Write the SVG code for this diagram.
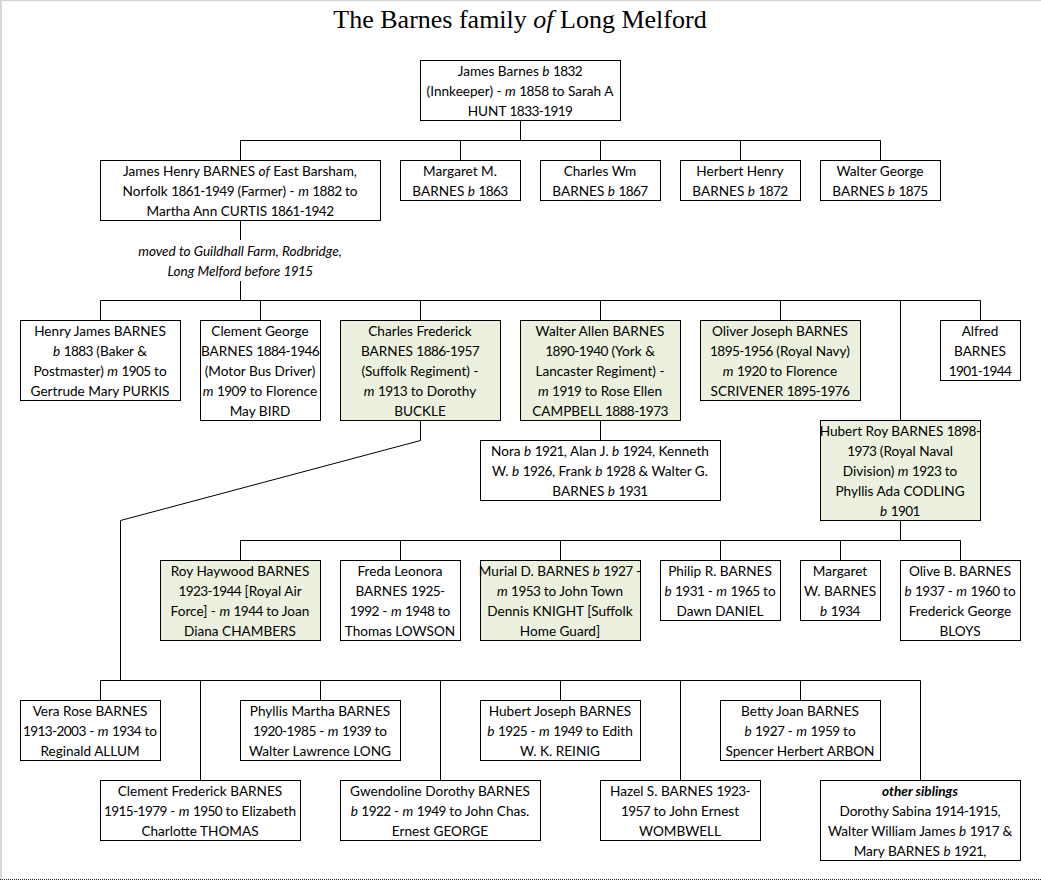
<svg xmlns="http://www.w3.org/2000/svg" width="1041" height="881" viewBox="0 0 1041 881">
<style>
.bg{fill:#fff}
.box{fill:#fff;stroke:#000;stroke-width:1}
.g{fill:#EBF1DE}
.t{font-family:Lato,"Liberation Sans",sans-serif;font-size:13.6px;fill:#000;text-anchor:middle}
.i{font-style:italic}
.bi{font-style:italic;font-weight:bold}
.d{letter-spacing:-0.6px}
.title{font-family:"Liberation Serif","DejaVu Serif",serif;font-size:26px;fill:#000;text-anchor:middle}
.c{fill:none;stroke:#000;stroke-width:1}
</style>
<rect class="bg" x="0" y="0" width="1041" height="881"/>
<line x1="0" y1="0.5" x2="1041" y2="0.5" stroke="#d0d0d0" stroke-width="1"/>
<line x1="1" y1="0" x2="1" y2="880" stroke="#d8d8d8" stroke-width="2"/>
<line x1="0" y1="879.5" x2="1041" y2="879.5" stroke="#222" stroke-width="1" stroke-dasharray="1 1"/>

<text class="title" x="520" y="28">The Barnes family <tspan class="i">of</tspan> Long Melford</text>

<g id="connectors">
<path class="c" d="M520.5 120.5V140.5M240.5 140.5H880.5M240.5 140.5V160.5M460.5 140.5V160.5M600.5 140.5V160.5M740.5 140.5V160.5M880.5 140.5V160.5"/>
<path class="c" d="M240.5 220.5V240M240.5 281V300.5M100.5 300.5H980.5M100.5 300.5V320.5M260.5 300.5V320.5M420.5 300.5V320.5M600.5 300.5V320.5M780.5 300.5V320.5M980.5 300.5V320.5M900.5 300.5V420.5"/>
<path class="c" d="M600.5 420.5V440.5"/>
<path class="c" d="M420.5 420.5V440.5L120.5 520.5V680.5"/>
<path class="c" d="M900.5 520.5V540.5M240.5 540.5H960.5M240.5 540.5V560.5M400.5 540.5V560.5M560.5 540.5V560.5M720.5 540.5V560.5M840.5 540.5V560.5M960.5 540.5V560.5"/>
<path class="c" d="M100.5 680.5H920.5M100.5 680.5V700.5M320.5 680.5V700.5M560.5 680.5V700.5M800.5 680.5V700.5M200.5 680.5V780.5M440.5 680.5V780.5M680.5 680.5V780.5M920.5 680.5V780.5"/>
<text class="t i" x="240" y="256">moved to Guildhall Farm, Rodbridge,</text>
<text class="t i" x="240" y="276">Long Melford before <tspan class="d">1915</tspan></text>
</g>

<g id="n-james">
<rect class="box" x="420.5" y="60.5" width="200" height="60"/>
<text class="t" x="520" y="76">James Barnes <tspan class="i">b</tspan> <tspan class="d">1832</tspan></text>
<text class="t" x="520" y="96">(Innkeeper) - <tspan class="i">m</tspan> <tspan class="d">1858</tspan> to Sarah A</text>
<text class="t" x="520" y="116">HUNT <tspan class="d">1833-1919</tspan></text>
</g>

<g id="n-jameshenry">
<rect class="box" x="100.5" y="160.5" width="280" height="60"/>
<text class="t" x="240" y="176">James Henry BARNES <tspan class="i">of</tspan> East Barsham,</text>
<text class="t" x="240" y="196">Norfolk <tspan class="d">1861-1949</tspan> (Farmer) - <tspan class="i">m</tspan> <tspan class="d">1882</tspan> to</text>
<text class="t" x="240" y="216">Martha Ann CURTIS <tspan class="d">1861-1942</tspan></text>
</g>
<g id="n-margaretm">
<rect class="box" x="400.5" y="160.5" width="120" height="40"/>
<text class="t" x="460" y="176">Margaret M.</text>
<text class="t" x="460" y="196">BARNES <tspan class="i">b</tspan> <tspan class="d">1863</tspan></text>
</g>
<g id="n-charleswm">
<rect class="box" x="540.5" y="160.5" width="120" height="40"/>
<text class="t" x="600" y="176">Charles Wm</text>
<text class="t" x="600" y="196">BARNES <tspan class="i">b</tspan> <tspan class="d">1867</tspan></text>
</g>
<g id="n-herberthenry">
<rect class="box" x="680.5" y="160.5" width="120" height="40"/>
<text class="t" x="740" y="176">Herbert Henry</text>
<text class="t" x="740" y="196">BARNES <tspan class="i">b</tspan> <tspan class="d">1872</tspan></text>
</g>
<g id="n-waltergeorge">
<rect class="box" x="820.5" y="160.5" width="120" height="40"/>
<text class="t" x="880" y="176">Walter George</text>
<text class="t" x="880" y="196">BARNES <tspan class="i">b</tspan> <tspan class="d">1875</tspan></text>
</g>

<g id="n-henryjames">
<rect class="box" x="20.5" y="320.5" width="160" height="80"/>
<text class="t" x="100" y="336">Henry James BARNES</text>
<text class="t" x="100" y="356"><tspan class="i">b</tspan> <tspan class="d">1883</tspan> (Baker &amp;</text>
<text class="t" x="100" y="376">Postmaster) <tspan class="i">m</tspan> <tspan class="d">1905</tspan> to</text>
<text class="t" x="100" y="396">Gertrude Mary PURKIS</text>
</g>
<g id="n-clementgeorge">
<rect class="box" x="200.5" y="320.5" width="120" height="100"/>
<text class="t" x="260" y="336">Clement George</text>
<text class="t" x="260" y="356">BARNES <tspan class="d">1884-1946</tspan></text>
<text class="t" x="260" y="376">(Motor Bus Driver)</text>
<text class="t" x="260" y="396"><tspan class="i">m</tspan> <tspan class="d">1909</tspan> to Florence</text>
<text class="t" x="260" y="416">May BIRD</text>
</g>
<g id="n-charlesfrederick">
<rect class="box g" x="340.5" y="320.5" width="160" height="100"/>
<text class="t" x="420" y="336">Charles Frederick</text>
<text class="t" x="420" y="356">BARNES <tspan class="d">1886-1957</tspan></text>
<text class="t" x="420" y="376">(Suffolk Regiment) -</text>
<text class="t" x="420" y="396"><tspan class="i">m</tspan> <tspan class="d">1913</tspan> to Dorothy</text>
<text class="t" x="420" y="416">BUCKLE</text>
</g>
<g id="n-walterallen">
<rect class="box g" x="520.5" y="320.5" width="160" height="100"/>
<text class="t" x="600" y="336">Walter Allen BARNES</text>
<text class="t" x="600" y="356"><tspan class="d">1890-1940</tspan> (York &amp;</text>
<text class="t" x="600" y="376">Lancaster Regiment) -</text>
<text class="t" x="600" y="396"><tspan class="i">m</tspan> <tspan class="d">1919</tspan> to Rose Ellen</text>
<text class="t" x="600" y="416">CAMPBELL <tspan class="d">1888-1973</tspan></text>
</g>
<g id="n-oliverjoseph">
<rect class="box g" x="700.5" y="320.5" width="160" height="80"/>
<text class="t" x="780" y="336">Oliver Joseph BARNES</text>
<text class="t" x="780" y="356"><tspan class="d">1895-1956</tspan> (Royal Navy)</text>
<text class="t" x="780" y="376"><tspan class="i">m</tspan> <tspan class="d">1920</tspan> to Florence</text>
<text class="t" x="780" y="396">SCRIVENER <tspan class="d">1895-1976</tspan></text>
</g>
<g id="n-alfred">
<rect class="box" x="940.5" y="320.5" width="80" height="60"/>
<text class="t" x="980" y="336">Alfred</text>
<text class="t" x="980" y="356">BARNES</text>
<text class="t" x="980" y="376"><tspan class="d">1901-1944</tspan></text>
</g>
<g id="n-nora">
<rect class="box" x="480.5" y="440.5" width="240" height="60"/>
<text class="t" x="600" y="456">Nora <tspan class="i">b</tspan> <tspan class="d">1921</tspan>, Alan J. <tspan class="i">b</tspan> <tspan class="d">1924</tspan>, Kenneth</text>
<text class="t" x="600" y="476">W. <tspan class="i">b</tspan> <tspan class="d">1926</tspan>, Frank <tspan class="i">b</tspan> <tspan class="d">1928</tspan> &amp; Walter G.</text>
<text class="t" x="600" y="496">BARNES <tspan class="i">b</tspan> <tspan class="d">1931</tspan></text>
</g>
<g id="n-hubertroy">
<rect class="box g" x="820.5" y="420.5" width="160" height="100"/>
<text class="t" x="900" y="436">Hubert Roy BARNES <tspan class="d">1898-</tspan></text>
<text class="t" x="900" y="456"><tspan class="d">1973</tspan> (Royal Naval</text>
<text class="t" x="900" y="476">Division) <tspan class="i">m</tspan> <tspan class="d">1923</tspan> to</text>
<text class="t" x="900" y="496">Phyllis Ada CODLING</text>
<text class="t" x="900" y="516"><tspan class="i">b</tspan> <tspan class="d">1901</tspan></text>
</g>

<g id="n-royhaywood">
<rect class="box g" x="160.5" y="560.5" width="160" height="80"/>
<text class="t" x="240" y="576">Roy Haywood BARNES</text>
<text class="t" x="240" y="596"><tspan class="d">1923-1944</tspan> [Royal Air</text>
<text class="t" x="240" y="616">Force] - <tspan class="i">m</tspan> <tspan class="d">1944</tspan> to Joan</text>
<text class="t" x="240" y="636">Diana CHAMBERS</text>
</g>
<g id="n-freda">
<rect class="box" x="340.5" y="560.5" width="120" height="80"/>
<text class="t" x="400" y="576">Freda Leonora</text>
<text class="t" x="400" y="596">BARNES <tspan class="d">1925-</tspan></text>
<text class="t" x="400" y="616"><tspan class="d">1992</tspan> - <tspan class="i">m</tspan> <tspan class="d">1948</tspan> to</text>
<text class="t" x="400" y="636">Thomas LOWSON</text>
</g>
<g id="n-murial">
<rect class="box g" x="480.5" y="560.5" width="160" height="80"/>
<text class="t" x="560" y="576">Murial D. BARNES <tspan class="i">b</tspan> <tspan class="d">1927</tspan> -</text>
<text class="t" x="560" y="596"><tspan class="i">m</tspan> <tspan class="d">1953</tspan> to John Town</text>
<text class="t" x="560" y="616">Dennis KNIGHT [Suffolk</text>
<text class="t" x="560" y="636">Home Guard]</text>
</g>
<g id="n-philip">
<rect class="box" x="660.5" y="560.5" width="120" height="60"/>
<text class="t" x="720" y="576">Philip R. BARNES</text>
<text class="t" x="720" y="596"><tspan class="i">b</tspan> <tspan class="d">1931</tspan> - <tspan class="i">m</tspan> <tspan class="d">1965</tspan> to</text>
<text class="t" x="720" y="616">Dawn DANIEL</text>
</g>
<g id="n-margaretw">
<rect class="box" x="800.5" y="560.5" width="80" height="60"/>
<text class="t" x="840" y="576">Margaret</text>
<text class="t" x="840" y="596">W. BARNES</text>
<text class="t" x="840" y="616"><tspan class="i">b</tspan> <tspan class="d">1934</tspan></text>
</g>
<g id="n-olive">
<rect class="box" x="900.5" y="560.5" width="120" height="80"/>
<text class="t" x="960" y="576">Olive B. BARNES</text>
<text class="t" x="960" y="596"><tspan class="i">b</tspan> <tspan class="d">1937</tspan> - <tspan class="i">m</tspan> <tspan class="d">1960</tspan> to</text>
<text class="t" x="960" y="616">Frederick George</text>
<text class="t" x="960" y="636">BLOYS</text>
</g>

<g id="n-vera">
<rect class="box" x="20.5" y="700.5" width="140" height="60"/>
<text class="t" x="90" y="716">Vera Rose BARNES</text>
<text class="t" x="90" y="736"><tspan class="d">1913-2003</tspan> - <tspan class="i">m</tspan> <tspan class="d">1934</tspan> to</text>
<text class="t" x="90" y="756">Reginald ALLUM</text>
</g>
<g id="n-phyllis">
<rect class="box" x="240.5" y="700.5" width="160" height="60"/>
<text class="t" x="320" y="716">Phyllis Martha BARNES</text>
<text class="t" x="320" y="736"><tspan class="d">1920-1985</tspan> - <tspan class="i">m</tspan> <tspan class="d">1939</tspan> to</text>
<text class="t" x="320" y="756">Walter Lawrence LONG</text>
</g>
<g id="n-hubertjoseph">
<rect class="box" x="480.5" y="700.5" width="160" height="60"/>
<text class="t" x="560" y="716">Hubert Joseph BARNES</text>
<text class="t" x="560" y="736"><tspan class="i">b</tspan> <tspan class="d">1925</tspan> - <tspan class="i">m</tspan> <tspan class="d">1949</tspan> to Edith</text>
<text class="t" x="560" y="756">W. K. REINIG</text>
</g>
<g id="n-betty">
<rect class="box" x="720.5" y="700.5" width="160" height="60"/>
<text class="t" x="800" y="716">Betty Joan BARNES</text>
<text class="t" x="800" y="736"><tspan class="i">b</tspan> <tspan class="d">1927</tspan> - <tspan class="i">m</tspan> <tspan class="d">1959</tspan> to</text>
<text class="t" x="800" y="756">Spencer Herbert ARBON</text>
</g>
<g id="n-clementfrederick">
<rect class="box" x="100.5" y="780.5" width="200" height="60"/>
<text class="t" x="200" y="796">Clement Frederick BARNES</text>
<text class="t" x="200" y="816"><tspan class="d">1915-1979</tspan> - <tspan class="i">m</tspan> <tspan class="d">1950</tspan> to Elizabeth</text>
<text class="t" x="200" y="836">Charlotte THOMAS</text>
</g>
<g id="n-gwendoline">
<rect class="box" x="340.5" y="780.5" width="200" height="60"/>
<text class="t" x="440" y="796">Gwendoline Dorothy BARNES</text>
<text class="t" x="440" y="816"><tspan class="i">b</tspan> <tspan class="d">1922</tspan> - <tspan class="i">m</tspan> <tspan class="d">1949</tspan> to John Chas.</text>
<text class="t" x="440" y="836">Ernest GEORGE</text>
</g>
<g id="n-hazel">
<rect class="box" x="600.5" y="780.5" width="160" height="60"/>
<text class="t" x="680" y="796">Hazel S. BARNES <tspan class="d">1923-</tspan></text>
<text class="t" x="680" y="816"><tspan class="d">1957</tspan> to John Ernest</text>
<text class="t" x="680" y="836">WOMBWELL</text>
</g>
<g id="n-othersiblings">
<rect class="box" x="820.5" y="780.5" width="200" height="80"/>
<text class="t bi" x="920" y="796">other siblings</text>
<text class="t" x="920" y="816">Dorothy Sabina <tspan class="d">1914-1915</tspan>,</text>
<text class="t" x="920" y="836">Walter William James <tspan class="i">b</tspan> <tspan class="d">1917</tspan> &amp;</text>
<text class="t" x="920" y="856">Mary BARNES <tspan class="i">b</tspan> <tspan class="d">1921</tspan>,</text>
</g>
</svg>
